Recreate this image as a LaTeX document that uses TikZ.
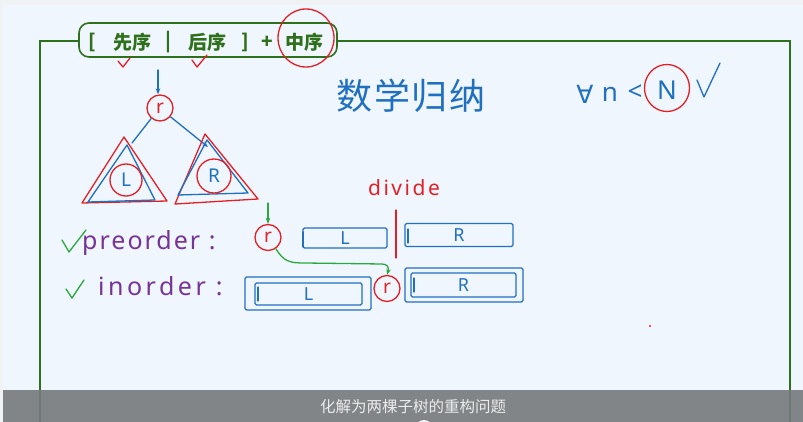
\documentclass[tikz,border=0pt]{standalone}
\usepackage{fontspec}
\newfontfamily\cjk{Noto Sans CJK SC}
\newfontfamily\hand{Noto Sans}
\newfontfamily\dejavu{DejaVu Sans}
\usetikzlibrary{arrows.meta,shapes.geometric}
\definecolor{pblue}{RGB}{32,112,192}
\definecolor{pred}{RGB}{228,32,38}
\definecolor{pgreen}{RGB}{44,168,64}
\definecolor{ppurple}{RGB}{118,52,150}
\definecolor{fgreen}{RGB}{46,112,28}
\definecolor{bgin}{RGB}{240,246,253}
\definecolor{bgout}{RGB}{241,242,243}
\definecolor{capgray}{RGB}{118,121,124}
\definecolor{captext}{RGB}{236,236,236}
\begin{document}
\begin{tikzpicture}[x=1pt,y=-1pt,
  pen/.style={line width=1.3pt,line cap=round,line join=round},
  bpen/.style={pen,draw=pblue},
  rpen/.style={pen,draw=pred},
  gpen/.style={pen,draw=pgreen},
  ttl/.style={text=fgreen,font=\cjk\bfseries\fontsize{19}{19}\selectfont,inner sep=0pt},
  rcirc/.style={circle,rpen,minimum size=26pt,inner sep=0pt,text=pred,font=\hand\fontsize{19}{19}\selectfont},
  lcirc/.style={circle,rpen,inner sep=0pt,text=pblue,font=\hand\fontsize{19}{19}\selectfont},
  sbox/.style={rectangle,bpen,rounded corners=1.5pt,inner sep=0pt,text=pblue,font=\hand\fontsize{18}{18}\selectfont},
  bluetxt/.style={text=pblue,inner sep=0pt},
  purp/.style={text=ppurple,inner sep=0pt,font=\hand\fontsize{25}{25}\selectfont\addfontfeatures{LetterSpace=8}}
]
\useasboundingbox (0,0) rectangle (803,422);
\fill[bgout] (0,0) rectangle (803,422);
\fill[bgin] (3,5) rectangle (803,422);
% frame
\draw[fgreen,line width=1.6pt] (40,422) -- (40,41) -- (790,41) -- (790,422);
% title
\node[draw=fgreen,line width=1.6pt,rounded corners=10pt,fill=bgin,minimum width=258pt,minimum height=34pt,inner sep=0pt] (title) at (208,40) {};
\node[ttl] (tlb) at (92,42) {[};
\node[ttl] (txx) at (132,42) {先序};
\node[ttl] (tbar) at (168,42) {|};
\node[ttl] (thx) at (207,42) {后序};
\node[ttl] (trb) at (245,42) {]};
\node[ttl] (tplus) at (267,42) {+};
\node[ttl] (tzx) at (304,42) {中序};
\node[ellipse,rpen,minimum width=56pt,minimum height=58pt,inner sep=0pt] (zxring) at (306,38) {};
% red checks
\draw[rpen] (118,61) -- (123,67) -- (130,58);
\draw[rpen] (192,60) -- (197,67) -- (207,55);
% tree
\coordinate (rin) at (158,70);
\node[rcirc] (r) at (160,108) {r};
\draw[bpen,-{Stealth[length=6pt]}] (rin) -- (rin |- r.north);
\coordinate (tla) at (127,145);
\coordinate (tra) at (207,140);
\draw[bpen] (r.-130) -- (132,143);
\draw[bpen,-{Stealth[length=6pt]}] (r.-40) -- (208,147);
\draw[rpen] (124,137) -- (82,203) -- (167,201) -- cycle;
\draw[bpen] (tla) -- (88,202) -- (155,200) -- cycle;
\draw[rpen] (205,134) -- (175,204) -- (258,199) -- cycle;
\draw[bpen] (tra) -- (178,195) -- (248,193) -- cycle;
\node[lcirc,minimum size=32pt] (cL) at (126,180) {L};
\node[lcirc,minimum size=34pt] (cR) at (214,176) {R};
% math induction
\node[bluetxt,font=\cjk\fontsize{36}{36}\selectfont\addfontfeatures{LetterSpace=5}] (sxgn) at (411,96) {数学归纳};
\node[bluetxt,font=\dejavu\fontsize{25}{25}\selectfont] (fa) at (585,94) {∀};
\node[bluetxt,font=\hand\fontsize{26}{26}\selectfont] (nn) at (610,94) {n};
\node[bluetxt,font=\hand\fontsize{26}{26}\selectfont] (lt) at (635,93) {<};
\node[bluetxt,font=\hand\fontsize{26}{26}\selectfont] (NN) at (667,90) {N};
\node[ellipse,rpen,minimum width=45pt,minimum height=47pt,inner sep=0pt] (Nring) at (667,88) {};
\draw[bpen] (697,80) -- (704,97) -- (720,63);
% divide
\node[text=pred,inner sep=0pt,font=\hand\fontsize{21}{21}\selectfont\addfontfeatures{LetterSpace=12}] (div) at (404,188) {divide};
\coordinate (dv1) at (396,210);
\coordinate (dv2) at (396,258);
\draw[rpen] (dv1) -- (dv2);
% preorder row
\draw[gpen] (62,240) -- (69,252) -- (86,230);
\node[purp,anchor=base west] (pre) at (82,250) {preorder :};
\coordinate (gin) at (268,203);
\node[rcirc] (pr) at (268,237.5) {r};
\draw[gpen,-{Stealth[length=6pt]}] (gin) -- (gin |- pr.north);
\node[sbox,minimum width=84pt,minimum height=20pt] (pL) at (345,238) {L};
\draw[bpen] (303,232) -- (303,247);
\node[sbox,minimum width=108pt,minimum height=23pt] (pR) at (459,235) {R};
\draw[bpen] (408,229) -- (408,243);
% inorder row
\draw[gpen] (66,289) -- (72,298) -- (84,280);
\node[purp,anchor=base west] (ino) at (98,295) {\addfontfeatures{LetterSpace=14}inorder :};
\node[sbox,minimum width=126pt,minimum height=33pt] (iLo) at (308,293.5) {};
\node[sbox,minimum width=107pt,minimum height=22pt] (iL) at (308.5,294) {L};
\draw[bpen] (258,287) -- (258,301);
\node[rcirc] (ir) at (387,288.5) {r};
\node[sbox,minimum width=118pt,minimum height=34pt] (iRo) at (464,285) {};
\node[sbox,minimum width=105pt,minimum height=24pt] (iR) at (463.5,285) {R};
\draw[bpen] (414,278) -- (414,292);
% green connector
\draw[gpen,-{Stealth[length=6pt]}] (pr.-55) .. controls (284,262) and (290,263) .. (305,263) -- (382,264) .. controls (388,264) and (389,268) .. (ir.north);
% red dot
\fill[pred] (650,326) circle (1.2pt);
% caption bar
\fill[capgray,fill opacity=0.9] (3,390) rectangle (803,422);
\node[text=captext,inner sep=0pt,font=\cjk\fontsize{15.5}{15.5}\selectfont] (cap) at (413,407) {化解为两棵子树的重构问题};
\fill[white!92!gray] (424,428) circle (8pt);
\end{tikzpicture}
\end{document}
